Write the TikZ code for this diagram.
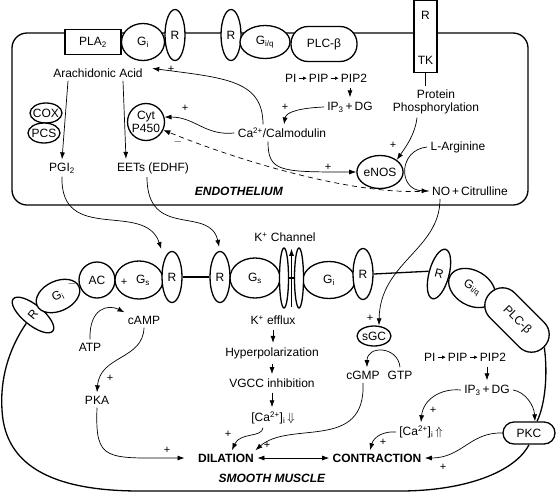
\documentclass[tikz,border=0pt]{standalone}
\usepackage{fontspec}
\setmainfont{Liberation Sans}
\usetikzlibrary{shapes, arrows, arrows.meta}

\newcommand{\sarrow}{\,\tikz[baseline=-4pt]\draw[line width=0.6pt, -{Latex[length=3.5pt, width=3.5pt]}] (0pt,0pt) -- (8pt,0pt);\,}

\begin{document}
\begin{tikzpicture}[x=1pt, y=-1pt, font=\fontsize{12}{13}\selectfont,
    wall/.style = {line width=1.3pt},
    prot/.style = {draw, ellipse, line width=1.3pt, fill=white, inner sep=0pt},
    rec/.style = {prot, minimum width=20pt, minimum height=51pt},
    small/.style = {prot, inner xsep=-3pt, minimum width=32pt, minimum height=20pt},
    pill/.style = {draw, rectangle, line width=1.3pt, fill=white, inner sep=0pt},
    sign/.style = {inner sep=0pt, font=\fontsize{11}{11}\selectfont},
    arr/.style = {line width=0.7pt, -{Latex[length=7pt, width=5pt]}},
    sarr/.style = {arr, shorten <=2pt, shorten >=1pt},
    bold/.style = {font=\fontsize{12}{13}\selectfont\bfseries}]
    \useasboundingbox (0,0) rectangle (556,493);

    % endothelium
    \draw[wall, rounded corners=15pt] (12,33) rectangle (528,205);
    \node[pill, minimum width=56pt, minimum height=25pt] at (93,42) (pla) {PLA\textsubscript{2}};
    \node[prot, minimum width=43pt, minimum height=37pt] at (143,42) (gie) {G\textsubscript{i}};
    \node[rec] at (175,35) (re1) {R};
    \node[rec] at (231,35) (re2) {R};
    \node[prot, minimum width=50pt, minimum height=33pt] at (265,42) (giqe) {G\textsubscript{i/q}};
    \node[pill, rounded corners=17pt, minimum width=66pt, minimum height=35pt] at (324,44) (plce) {PLC-β};
    \node[pill, minimum width=23pt, minimum height=72pt] at (425.5,36.5) (tk) {};
    \node at (425.5,15) (tkr) {R};
    \node at (425.5,60) (tkt) {TK};

    \node at (98,73) (aa) {Arachidonic Acid};
    \node[small] at (46,113) (cox) {COX};
    \node[small] at (44,133) (pcs) {PCS};
    \node at (62,168) (pgi) {PGI\textsubscript{2}};
    \node at (153,168) (eet) {EETs (EDHF)};
    \node[prot, circle, minimum size=37pt, align=center, font=\fontsize{12}{12.5}\selectfont] at (146,122) (cyt) {Cyt\\P450};
    \node at (282,133) (ca) {Ca\textsuperscript{2+}/Calmodulin};
    \node at (326,78) (pi1) {PI\sarrow PIP\sarrow PIP2};
    \node at (350,107) (ip1) {IP\textsubscript{3}\,+\,DG};
    \node[align=center] at (436,102) (prot) {Protein\\Phosphorylation};
    \node[prot, minimum width=45pt, minimum height=33pt] at (380,172) (enos) {eNOS};
    \node at (458,147) (larg) {L-Arginine};
    \node at (470,191) (no) {NO\,+\,Citrulline};
    \node at (239,191) (endo) {\textbf{\textit{ENDOTHELIUM}}};

    \node[sign] at (171,69) (s1) {+};
    \node[sign] at (185,108) (s2) {+};
    \node[sign] at (178,142) (s3) {$-$};
    \node[sign] at (285,107) (s4) {+};
    \node[sign] at (328,167) (s5) {+};
    \node[sign] at (393,145) (s6) {+};

    \draw[arr] ([xshift=-30pt]aa.south) -- (pgi.north);
    \draw[arr] ([xshift=25pt]aa.south) -- ([xshift=-27pt]eet.north);
    \draw[arr] ([xshift=-19pt]ca.north) .. controls (263,80) and (225,78) .. ([yshift=-9pt]gie.-62);
    \draw[arr] (ca.west) .. controls (205,136) and (195,117) .. (cyt.15);
    \draw[arr, dash pattern=on 5pt off 4pt] (no.west) .. controls (360,196) and (250,165) .. (cyt.-25);
    \draw[sarr] (pi1.south -| ip1.north) -- (ip1.north);
    \draw[arr] (ip1.west) .. controls (300,108) and (286,112) .. ([xshift=2pt]ca.north);
    \draw[arr] ([xshift=-14pt]ca.south) .. controls (268,172) and (280,172) .. (enos.west);
    \draw[arr] ([xshift=-19pt]prot.south) .. controls (415,135) and (405,148) .. (enos.north east);
    \draw[line width=0.7pt] (tk.south) -- (tk.south |- prot.north);
    \draw[arr] (larg.west) .. controls (398,150) and (398,190) .. (no.west);

    % smooth muscle
    \node[rec, rotate=51] at (33,315) (rs0) {R};
    \node[prot, rotate=25, minimum width=46pt, minimum height=30pt] at (58,296) (gis) {G\textsubscript{i}};
    \node[prot, circle, minimum size=36pt] at (97,280) (ac) {AC};
    \node[prot, minimum width=48pt, minimum height=38pt] at (139,280) (gss) {\hspace*{8pt}G\textsubscript{s}};
    \node[rec] at (172,277) (rs1) {R};
    \node[rec] at (220,277) (rs2) {R};
    \node[prot, minimum width=50pt, minimum height=40pt] at (255,278) (gsm) {G\textsubscript{s}};
    \node[prot, minimum width=52pt, minimum height=37pt] at (329,280) (gim) {G\textsubscript{i}};
    \node[prot, minimum width=9pt, minimum height=60pt] at (284,278) (kc1) {};
    \node[prot, minimum width=9pt, minimum height=60pt] at (299,278) (kc2) {};
    \node[minimum height=58pt, inner sep=0pt] at (291.5,278) (kpore) {};
    \node[rec] at (363,274) (rs3) {R};
    \node[rec, rotate=-15] at (439,274) (rs4) {R};
    \node[prot, rotate=-30, minimum width=50pt, minimum height=35pt] at (472,288) (giqs) {G\textsubscript{i/q}};
    \node[pill, rotate=-45, rounded corners=17pt, minimum width=76pt, minimum height=35pt] at (517,320) (plcs) {PLC-β};
    \node[pill, rounded corners=11pt, minimum width=52pt, minimum height=22pt] at (529,433) (pkc) {PKC};

    \draw[wall] (rs0.west) .. controls (8,350) and (0,380) .. (2,410) .. controls (5,470) and (60,491) .. (140,491) -- (400,491) .. controls (465,491) and (515,472) .. (pkc.south);
    \draw[wall] ([xshift=8pt]pkc.north) .. controls (545,405) and (548,375) .. (plcs.east);
    \draw[wall] (rs1.east) -- (rs2.west);
    \draw[wall] (kc1.east) -- (kc2.west);
    \draw[wall] (rs3.east) -- (rs4.west);

    \node at (285,237) (kch) {K\textsuperscript{+} Channel};
    \node at (273,320) (keff) {K\textsuperscript{+} efflux};
    \node at (272,353) (hyp) {Hyperpolarization};
    \node at (272,383) (vgcc) {VGCC inhibition};
    \node at (273,418) (cad) {[Ca\textsuperscript{2+}]\textsubscript{i}\,$\Downarrow$};
    \node[prot, minimum width=33pt, minimum height=20pt] at (374,336) (sgc) {sGC};
    \node at (363,375) (cgmp) {cGMP};
    \node at (400,375) (gtp) {GTP};
    \node at (90,347) (atp) {ATP};
    \node at (144,320) (camp) {cAMP};
    \node at (97,400) (pka) {PKA};
    \node[bold] at (226,458) (dil) {DILATION};
    \node[bold] at (377,458) (con) {CONTRACTION};
    \node at (272,478) (sm) {\textbf{\textit{SMOOTH MUSCLE}}};
    \node at (465,357) (pi2) {PI\sarrow PIP\sarrow PIP2};
    \node at (487,390) (ip2) {IP\textsubscript{3}\,+\,DG};
    \node at (421,432) (cau) {[Ca\textsuperscript{2+}]\textsubscript{i}\,$\Uparrow$};

    \node[sign] at (72,284) (s7) {$-$};
    \node[sign] at (124,282) (s8) {+};
    \node[sign] at (110,378) (s9) {+};
    \node[sign] at (370,318) (s10) {+};
    \node[sign] at (167,450) (s11) {+};
    \node[sign] at (228,434) (s12) {+};
    \node[sign] at (267,445) (s13) {+};
    \node[sign] at (433,410) (s14) {+};
    \node[sign] at (383,442) (s15) {+};
    \node[sign] at (443,467) (s16) {+};

    \draw[arr, shorten >=10pt] (pgi.south) .. controls (60,245) and (145,200) .. (rs1.north west);
    \draw[arr, shorten >=4pt] ([xshift=-6pt]eet.south) .. controls (147,240) and (210,205) .. (rs2.north);
    \draw[arr] ([xshift=-30pt]no.south) .. controls (440,250) and (380,262) .. ([xshift=5pt]sgc.north);
    \draw[arr] (kpore.south) -- (kpore.north);
    \draw[sarr] (keff.south) -- (keff.south |- hyp.north);
    \draw[sarr] (hyp.south) -- (hyp.south |- vgcc.north);
    \draw[sarr] (vgcc.south) -- (vgcc.south |- cad.north);
    \draw[arr] ([xshift=-10pt]cad.south) .. controls (262,438) and (240,432) .. ([xshift=6pt]dil.north);
    \draw[arr] (cgmp.south) .. controls (366,452) and (290,420) .. ([xshift=-2pt]dil.north east);
    \draw[arr, shorten >=10pt] (pka.south) .. controls (95,462) and (105,458) .. (dil.west);
    \draw[arr] (camp.south) .. controls (143,360) and (100,355) .. (pka.north);
    \draw[arr] (atp.north) .. controls (89,308) and (108,304) .. (camp.north west);
    \draw[arr] (gtp.north) .. controls (398,346) and (367,345) .. ([xshift=4pt]cgmp.north);
    \draw[arr, {Latex[length=7pt, width=5pt]}-{Latex[length=7pt, width=5pt]}] (dil.east) -- (con.west);
    \draw[sarr] (pi2.south -| ip2.north) -- (ip2.north);
    \draw[arr] (ip2.west) .. controls (440,388) and (423,400) .. (cau.north);
    \draw[arr] (ip2.east) .. controls (525,392) and (534,405) .. ([xshift=6pt]pkc.north);
    \draw[arr] (cau.west) .. controls (385,431) and (374,436) .. ([xshift=-7pt]con.north);
    \draw[arr] (pkc.west) .. controls (470,432) and (462,458) .. (con.east);
\end{tikzpicture}
\end{document}
